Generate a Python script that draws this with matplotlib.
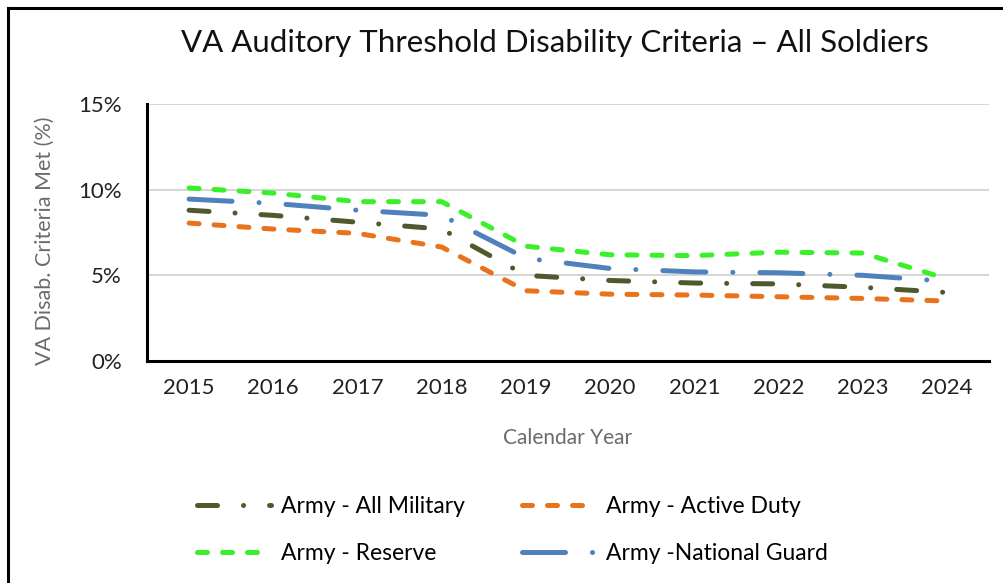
import matplotlib.pyplot as plt
from matplotlib.lines import Line2D

plt.rcParams['font.family'] = ['Lato', 'DejaVu Sans']

# Data (percent)
years = ['2015', '2016', '2017', '2018', '2019', '2020', '2021', '2022', '2023', '2024']
all_military = [8.8, 8.5, 8.1, 7.7, 5.0, 4.7, 4.55, 4.5, 4.3, 4.0]
active_duty = [8.05, 7.7, 7.45, 6.65, 4.1, 3.9, 3.85, 3.75, 3.65, 3.5]
reserve = [10.1, 9.8, 9.3, 9.3, 6.7, 6.2, 6.15, 6.35, 6.3, 4.8]
national_guard = [9.45, 9.2, 8.8, 8.5, 6.0, 5.4, 5.2, 5.15, 5.0, 4.65]
labels = ['Army - All Military', 'Army - Active Duty', 'Army - Reserve', 'Army -National Guard']

fig = plt.figure(figsize=(10.04, 5.83), dpi=100)
ax = fig.add_axes([0.1464, 0.3808, 0.8386, 0.4408])

x = range(len(years))
lw = 3.6
common = dict(linewidth=lw, dash_capstyle='round', solid_capstyle='round')

l1, = ax.plot(x, all_military, color='#4F5A2C', dashes=(4, 5.2, 0.01, 5.2), **common)
l2, = ax.plot(x, active_duty, color='#E8731C', dashes=(2, 3), **common)
l3, = ax.plot(x, reserve, color='#3AF02A', dashes=(2, 3), **common)
l4, = ax.plot(x, national_guard, color='#4F81BD', dashes=(8.6, 5.4, 0.01, 5.4), **common)

ax.set_xlim(-0.5, len(years) - 0.5)
ax.set_ylim(0, 15)
ax.set_xticks(list(x))
ax.set_xticklabels(years)
ax.set_yticks([0, 5, 10, 15])
ax.set_yticklabels(['0%', '5%', '10%', '15%'])
ax.tick_params(axis='both', length=0, labelsize=16, colors='#222222')
ax.tick_params(axis='x', pad=12)
ax.tick_params(axis='y', pad=18)

ax.grid(axis='y', color='#D0D0D0', linewidth=1.2)
ax.set_axisbelow(True)
for s in ['top', 'right']:
    ax.spines[s].set_visible(False)
for s in ['left', 'bottom']:
    ax.spines[s].set_color('black')
    ax.spines[s].set_linewidth(2.2)

ax.set_xlabel('Calendar Year', fontsize=15, color='#6B6B6B', labelpad=22)
fig.text(0.045, 0.587, 'VA Disab. Criteria Met (%)', rotation=90, fontsize=15.5,
         color='#6B6B6B', ha='center', va='center')

fig.text(0.553, 0.926, 'VA Auditory Threshold Disability Criteria \u2013 All Soldiers',
         fontsize=22.5, ha='center', va='center', color='#111111')

# legend handles
h1 = Line2D([], [], color='#4F5A2C', dashes=(4, 5.2, 0.01, 5.2), **common)
h2 = Line2D([], [], color='#E8731C', dashes=(2, 3), **common)
h3 = Line2D([], [], color='#3AF02A', dashes=(2, 3), **common)
h4 = Line2D([], [], color='#4F81BD', dashes=(8.6, 5.4, 0.01, 5.4), **common)
fig.legend([h1, h3, h2, h4], [labels[0], labels[2], labels[1], labels[3]],
           ncol=2, loc='center left', bbox_to_anchor=(0.176, 0.091),
           frameon=False, fontsize=16.5, handlelength=3.2, handletextpad=0.45,
           columnspacing=2.5, labelspacing=1.1)

# partial frame around the picture
fig.add_artist(Line2D([0.008, 0.008], [0, 0.987], color='black', linewidth=2.2,
                      transform=fig.transFigure))
fig.add_artist(Line2D([0.008, 1.0], [0.987, 0.987], color='black', linewidth=2.2,
                      transform=fig.transFigure))

fig.savefig('out.png', dpi=100)
